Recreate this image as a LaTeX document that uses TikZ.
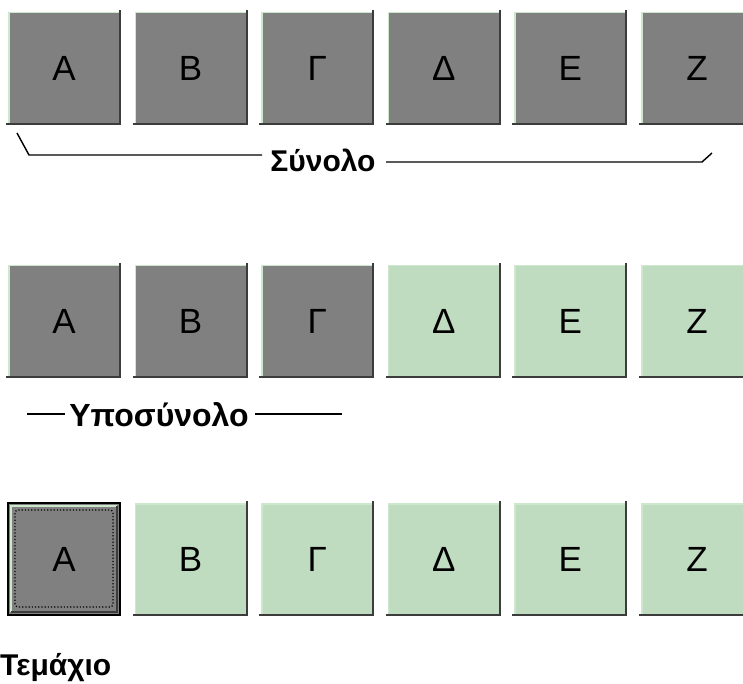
\documentclass[tikz,border=0pt]{standalone}
\usepackage{fontspec}
\setmainfont{Liberation Sans}
\definecolor{boxgray}{RGB}{128,128,128}
\definecolor{boxgreen}{RGB}{192,220,192}
\definecolor{hilite}{RGB}{205,232,205}
\definecolor{shade}{RGB}{60,60,60}
\tikzset{
  cell/.style={minimum width=112pt, minimum height=112pt, inner sep=0pt, outer sep=0pt,
    anchor=north west, font=\fontsize{35}{35}\selectfont},
  graycell/.style={cell, fill=boxgray},
  greencell/.style={cell, fill=boxgreen},
  lbl/.style={font=\bfseries\fontsize{30}{30}\selectfont, inner sep=0pt},
  hiline/.style={draw=hilite, line width=1.5pt},
  shline/.style={draw=shade, line width=2pt},
  bracket/.style={draw=black, line width=1.4pt}
}
\begin{document}
\begin{tikzpicture}[x=1pt,y=-1pt]
\useasboundingbox (0,0) rectangle (743,684);
% Row 1
\node[graycell] (r1a) at (8,12) {Α};
\node[graycell] (r1b) at (134.6,12) {Β};
\node[graycell] (r1c) at (261.2,12) {Γ};
\node[graycell] (r1d) at (387.8,12) {Δ};
\node[graycell] (r1e) at (514.4,12) {Ε};
\node[graycell] (r1f) at (641,12) {Ζ};
% Row 2
\node[graycell] (r2a) at (8,265) {Α};
\node[graycell] (r2b) at (134.6,265) {Β};
\node[graycell] (r2c) at (261.2,265) {Γ};
\node[greencell] (r2d) at (387.8,265) {Δ};
\node[greencell] (r2e) at (514.4,265) {Ε};
\node[greencell] (r2f) at (641,265) {Ζ};
% Row 3
\node[graycell] (r3a) at (8,503) {Α};
\node[greencell] (r3b) at (134.6,503) {Β};
\node[greencell] (r3c) at (261.2,503) {Γ};
\node[greencell] (r3d) at (387.8,503) {Δ};
\node[greencell] (r3e) at (514.4,503) {Ε};
\node[greencell] (r3f) at (641,503) {Ζ};
% bevels
\foreach \n in {r1a,r1b,r1c,r1d,r1e,r1f,r2a,r2b,r2c,r2d,r2e,r2f,r3b,r3c,r3d,r3e,r3f}{
  \draw[hiline] ([xshift=0.75pt,yshift=1pt]\n.south west) -- ([xshift=0.75pt,yshift=-0.75pt]\n.north west) -- ([yshift=-0.75pt]\n.north east);
  \draw[shline] ([xshift=-2pt]\n.south west) -- (\n.south east) -- ([yshift=2pt]\n.north east);
}
% selected item
\draw[hiline] ([xshift=3pt,yshift=3pt]r3a.south west) -- ([xshift=3pt,yshift=-3pt]r3a.north west) -- ([xshift=-3pt,yshift=-3pt]r3a.north east);
\draw[shline] ([xshift=3pt,yshift=3pt]r3a.south west) -- ([xshift=-3pt,yshift=3pt]r3a.south east) -- ([xshift=-3pt,yshift=-3pt]r3a.north east);
\draw[black, line width=2pt] (r3a.south west) rectangle (r3a.north east);
\draw[black, line width=1.2pt, dotted, rounded corners=3pt] ([xshift=7pt,yshift=8pt]r3a.south west) rectangle ([xshift=-7pt,yshift=-7pt]r3a.north east);
% Labels
\node[lbl, anchor=base] (syn) at (323,172) {Σύνολο};
\node[lbl, anchor=base, font=\bfseries\fontsize{32}{32}\selectfont] (ypo) at (159,426) {Υποσύνολο};
\node[lbl, anchor=base west] (tem) at (0,675) {Τεμάχιο};
% Bracket for the set
\coordinate (l1a) at (17,133);
\coordinate (l1b) at (29,155);
\coordinate (l1e) at (262,155);
\coordinate (l1f) at (386,162);
\coordinate (l1c) at (702,162);
\coordinate (l1d) at (712,153);
\draw[bracket] (l1a) -- (l1b) -- (l1e);
\draw[bracket] (l1f) -- (l1c) -- (l1d);
% Lines for the subset
\coordinate (l2a) at (27,414);
\coordinate (l2c) at (65,414);
\coordinate (l2d) at (255,414);
\coordinate (l2b) at (342,414);
\draw[bracket] (l2a) -- (l2c);
\draw[bracket] (l2d) -- (l2b);
\end{tikzpicture}
\end{document}
